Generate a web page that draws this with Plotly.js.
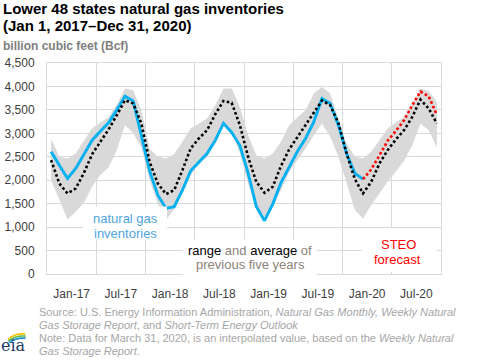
<!DOCTYPE html>
<html>
<head>
<meta charset="utf-8">
<script src="https://cdn.plot.ly/plotly-3.0.1.min.js"></script>
<style>html,body{margin:0;padding:0;background:#fff;}#chart{width:482px;height:360px;}</style>
</head>
<body>
<div id="chart"></div>
<script>
// ---- data (Bcf, end of month, Jan 2017 - Dec 2020) ----
const years = ['17', '18', '19', '20'];
const monthNames = ['Jan','Feb','Mar','Apr','May','Jun','Jul','Aug','Sep','Oct','Nov','Dec'];
const tickLabels = ['Jan-17','Jul-17','Jan-18','Jul-18','Jan-19','Jul-19','Jan-20','Jul-20'];

const inventories = [
  2605,2322,2038,2250,2541,2854,3046,3223,3500,3791,3690,2970,
  2200,1680,1400,1434,1789,2200,2390,2570,2854,3215,3018,2740,
  2150,1440,1136,1490,1945,2272,2612,2890,3245,3740,3636,3174,
  2570,2145,2024
];
const forecastStart = 'Mar-20';
const steoForecast = [2024,2230,2530,2840,3050,3280,3600,3890,3790,3390];

const fiveYearAvg = [
  2430,1930,1720,1825,2158,2556,2818,3081,3387,3706,3636,3210,
  2392,1930,1704,1789,2215,2677,2890,3067,3408,3690,3650,3174,
  2500,1966,1732,1860,2300,2655,2918,3174,3437,3700,3600,3223,
  2570,2024,1718,1966,2357,2641,2869,3067,3350,3720,3530,3210
];
const fiveYearMax = [
  2890,2500,2464,2570,2840,3110,3230,3350,3613,3955,3920,3493,
  2677,2500,2464,2560,2818,3110,3210,3316,3600,3955,3955,3564,
  2960,2535,2464,2570,2818,3174,3337,3493,3848,3990,3848,3316,
  2784,2500,2464,2605,2854,3103,3230,3350,3620,3955,3905,3670
];
const fiveYearMin = [
  2000,1576,1165,1327,1519,1860,2109,2272,2641,3174,3000,2700,
  2000,1500,1150,1380,1750,2100,2350,2500,2784,3174,3031,2570,
  1930,1434,1220,1434,1789,2180,2428,2677,2960,3210,2925,2500,
  1945,1363,1186,1470,1718,1966,2180,2413,2748,3210,3067,2700
];

// ---- build x positions (month slots, centre of each month) ----
const months = [];
years.forEach(y => monthNames.forEach(m => months.push(m + '-' + y)));
const xPos = months.map((m, i) => i + 0.5);
const xInv = xPos.slice(0, inventories.length);
const fStart = months.indexOf(forecastStart);
const xFc = xPos.slice(fStart, fStart + steoForecast.length);
const tickVals = tickLabels.map(l => months.indexOf(l) + 3);

// ---- layout helpers (pixel -> paper) ----
const ML = 47, MR = 41, MT = 63, MB = 86, W = 482, H = 360;
const PW = W - ML - MR, PH = H - MT - MB;
const PX = x => (x - ML) / PW;
const PY = y => (H - MB - y) / PH;

const FONT = 'Liberation Sans, Arial, sans-serif';
const dotDash = '2.6px,2.4px';

const traces = [
  {x: xPos, y: fiveYearMin, mode: 'lines', line: {width: 0, color: '#d9d9d9'}, hoverinfo: 'skip', showlegend: false},
  {x: xPos, y: fiveYearMax, mode: 'lines', fill: 'tonexty', fillcolor: '#d9d9d9', line: {width: 0, color: '#d9d9d9'}, hoverinfo: 'skip', showlegend: false},
  {x: xInv, y: inventories, mode: 'lines', line: {color: '#00b0f0', width: 2.9}, showlegend: false},
  {x: xPos, y: fiveYearAvg, mode: 'lines', line: {color: '#000000', width: 2.6, dash: dotDash}, showlegend: false},
  {x: xFc, y: steoForecast, mode: 'lines', line: {color: '#ff0000', width: 2.6, dash: dotDash}, showlegend: false}
];

function ann(text, x, y, opts) {
  return Object.assign({
    text: text, xref: 'paper', yref: 'paper', x: PX(x), y: PY(y),
    xanchor: 'left', yanchor: 'middle', showarrow: false,
    font: {family: FONT, size: 11, color: '#a6a6a6'}, align: 'left', borderpad: 0
  }, opts || {});
}

const annotations = [
  ann('<b>Lower 48 states natural gas inventories</b>', 2, 8.1, {font: {family: FONT, size: 15, color: '#000'}}),
  ann('<b>(Jan 1, 2017–Dec 31, 2020)</b>', 2, 25.8, {font: {family: FONT, size: 15, color: '#000'}}),
  ann('<b>billion cubic feet (Bcf)</b>', 2, 45.8, {font: {family: FONT, size: 12, color: '#808080'}}),
  ann('natural gas', 125, 218.8, {xanchor: 'center', font: {family: FONT, size: 13, color: '#4ea4e0'}}),
  ann('inventories', 125, 233.2, {xanchor: 'center', font: {family: FONT, size: 13, color: '#4ea4e0'}}),
  ann('<span style="color:#000">range</span> and <span style="color:#000">average</span> of', 250, 250.5, {xanchor: 'center', font: {family: FONT, size: 13, color: '#8c8279'}}),
  ann('previous five years', 250.5, 264.8, {xanchor: 'center', font: {family: FONT, size: 13, color: '#8c8279'}}),
  ann('STEO', 398.3, 244.5, {xanchor: 'center', font: {family: FONT, size: 13, color: '#ff0000'}}),
  ann('forecast', 397.5, 259.5, {xanchor: 'center', font: {family: FONT, size: 13, color: '#ff0000'}}),
  ann('Source: U.S. Energy Information Administration, <i>Natural Gas Monthly, Weekly Natural</i>', 38, 311.9),
  ann('<i>Gas Storage Report</i>, and <i>Short-Term Energy Outlook</i>', 38, 324.5),
  ann('Note: Data for March 31, 2020, is an interpolated value, based on the <i>Weekly Natural</i>', 38, 337.9),
  ann('<i>Gas Storage Report</i>.', 38, 351.2),
  ann('eia', 0, 345.5, {font: {family: 'DejaVu Serif, serif', size: 16, color: '#1b3a6b'}})
];

function box(x0, x1, y0, y1) {
  return {type: 'rect', xref: 'paper', yref: 'paper', x0: PX(x0), x1: PX(x1), y0: PY(y1), y1: PY(y0),
          fillcolor: '#ffffff', line: {width: 0}, layer: 'above'};
}
const shapes = [
  box(83, 167, 206.5, 240),
  box(183, 317, 240, 277),
  box(361.5, 437, 228, 272)
];

const logoSvg = '<svg xmlns="http://www.w3.org/2000/svg" width="20" height="10" viewBox="0 0 20 10">' +
  '<path d="M1 6.5 Q8 0 19.5 1" fill="none" stroke="#f2c200" stroke-width="1.7"/>' +
  '<path d="M1.5 8.2 Q8.5 2.4 19.5 3.1" fill="none" stroke="#5cb84a" stroke-width="1.7"/>' +
  '<path d="M2 9.7 Q9 4.6 19.5 5.2" fill="none" stroke="#1e8fd5" stroke-width="1.7"/></svg>';

const layout = {
  width: W, height: H,
  margin: {l: ML, r: MR, t: MT, b: MB, pad: 0},
  paper_bgcolor: '#fff', plot_bgcolor: '#fff',
  font: {family: FONT, size: 12, color: '#404040'},
  showlegend: false, hovermode: false,
  xaxis: {
    range: [0, 48], tickmode: 'array', tickvals: tickVals, ticktext: tickLabels,
    showgrid: false, zeroline: false, ticks: '',
    minor: {dtick: 6, tick0: 0, showgrid: true, gridcolor: '#d9d9d9', gridwidth: 1, ticks: ''},
    showline: true, mirror: true, linecolor: '#d9d9d9', linewidth: 1,
    tickfont: {family: FONT, size: 12, color: '#404040'}, ticklabelstandoff: 9, fixedrange: true
  },
  yaxis: {
    range: [0, 4500], dtick: 500, tick0: 0, tickformat: ',',
    showgrid: true, gridcolor: '#d9d9d9', gridwidth: 1, zeroline: false, ticks: '',
    showline: true, mirror: true, linecolor: '#d9d9d9', linewidth: 1,
    tickfont: {family: FONT, size: 12, color: '#404040'}, ticklabelstandoff: 9, fixedrange: true
  },
  annotations: annotations,
  shapes: shapes,
  images: [{
    source: 'data:image/svg+xml;charset=utf-8,' + encodeURIComponent(logoSvg),
    xref: 'paper', yref: 'paper', x: PX(7), y: PY(333), sizex: 19 / PW, sizey: 10 / PH,
    xanchor: 'left', yanchor: 'top', sizing: 'stretch', layer: 'above'
  }]
};

Plotly.newPlot('chart', traces, layout, {displayModeBar: false, staticPlot: true});
</script>
</body>
</html>
